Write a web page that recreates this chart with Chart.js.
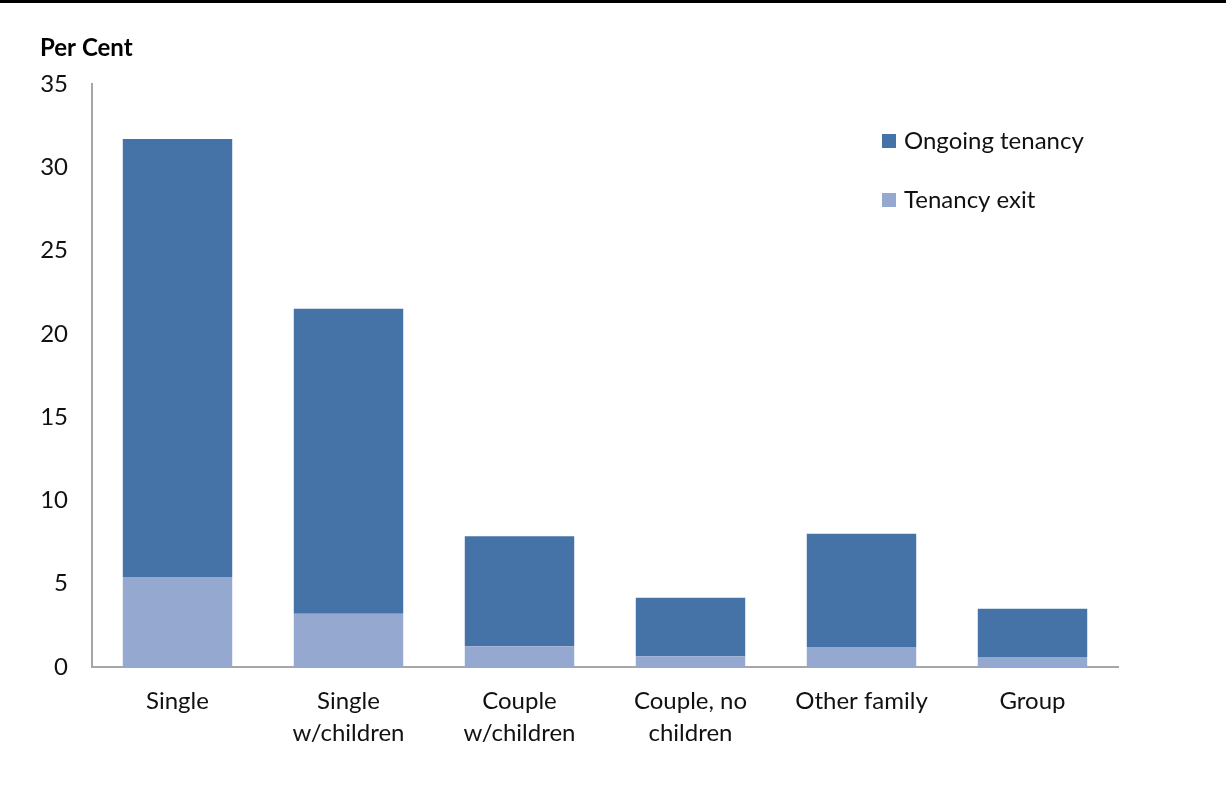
<!DOCTYPE html>
<html>
<head>
<meta charset="utf-8">
<script src="https://cdn.jsdelivr.net/npm/chart.js@4/dist/chart.umd.min.js"></script>
<style>
  html, body { margin: 0; padding: 0; background: #fff; }
  #wrap { width: 1226px; height: 785px; }
</style>
</head>
<body>
<div id="wrap"><canvas id="chart" width="1226" height="785"></canvas></div>
<script>
const categories = [['Single'], ['Single', 'w/children'], ['Couple', 'w/children'], ['Couple, no', 'children'], ['Other family'], ['Group']];
const tenancyExit = [5.4, 3.2, 1.25, 0.65, 1.2, 0.6];
const ongoingTenancy = [26.3, 18.3, 6.6, 3.5, 6.8, 2.9];
const yTicks = [0, 5, 10, 15, 20, 25, 30, 35];

const darkBlue = '#4573a7';
const lightBlue = '#95a9d0';
const font = 'Lato, "Open Sans", sans-serif';

// page frame, axis title and the right-hand legend
const decorations = {
	id: 'decorations',
	beforeDraw(chart) {
		const ctx = chart.ctx;
		ctx.save();
		ctx.fillStyle = '#fff';
		ctx.fillRect(0, 0, chart.width, chart.height);
		ctx.fillStyle = '#000';
		ctx.fillRect(0, 0, chart.width, 3);
		ctx.restore();
	},
	afterDraw(chart) {
		const ctx = chart.ctx;
		ctx.save();
		ctx.fillStyle = '#000';
		ctx.font = 'bold 24px ' + font;
		ctx.textBaseline = 'alphabetic';
		ctx.fillText('Per Cent', 40, 56);

		const items = [
			{ text: 'Ongoing tenancy', color: darkBlue, y: 141 },
			{ text: 'Tenancy exit', color: lightBlue, y: 200 }
		];
		ctx.font = '24px ' + font;
		ctx.textBaseline = 'middle';
		items.forEach(item => {
			ctx.fillStyle = item.color;
			ctx.fillRect(882, item.y - 7, 14, 14);
			ctx.fillStyle = '#111';
			ctx.fillText(item.text, 904, item.y);
		});
		ctx.restore();
	}
};

const context = document.getElementById('chart').getContext('2d');

new Chart(context, {
	type: 'bar',
	data: {
		labels: categories,
		datasets: [
			{
				label: 'Tenancy exit',
				data: tenancyExit,
				backgroundColor: lightBlue,
				categoryPercentage: 1,
				barPercentage: 0.64
			},
			{
				label: 'Ongoing tenancy',
				data: ongoingTenancy,
				backgroundColor: darkBlue,
				categoryPercentage: 1,
				barPercentage: 0.64
			}
		]
	},
	options: {
		responsive: false,
		animation: false,
		layout: {
			padding: { top: 84, right: 108, bottom: 0, left: 0 }
		},
		plugins: {
			legend: { display: false },
			tooltip: { enabled: false }
		},
		scales: {
			x: {
				stacked: true,
				grid: { display: false, drawTicks: false },
				border: { display: true, color: '#a6a6a6', width: 2 },
				ticks: {
					color: '#111',
					padding: 18,
					maxRotation: 0,
					autoSkip: false,
					font: { family: font, size: 24, lineHeight: 1.35 }
				},
				afterFit(scale) {
					scale.height = 118;
					scale.paddingLeft = 0;
					scale.paddingRight = 0;
				}
			},
			y: {
				stacked: true,
				min: 0,
				max: 35,
				afterBuildTicks(scale) {
					scale.ticks = yTicks.map(v => ({ value: v }));
				},
				grid: { display: false, drawTicks: false },
				border: { display: true, color: '#a6a6a6', width: 2 },
				ticks: {
					color: '#111',
					padding: 24,
					font: { family: font, size: 24 }
				},
				afterFit(scale) {
					scale.width = 92;
					scale.paddingTop = 0;
					scale.paddingBottom = 0;
				}
			}
		}
	},
	plugins: [decorations]
});
</script>
</body>
</html>
